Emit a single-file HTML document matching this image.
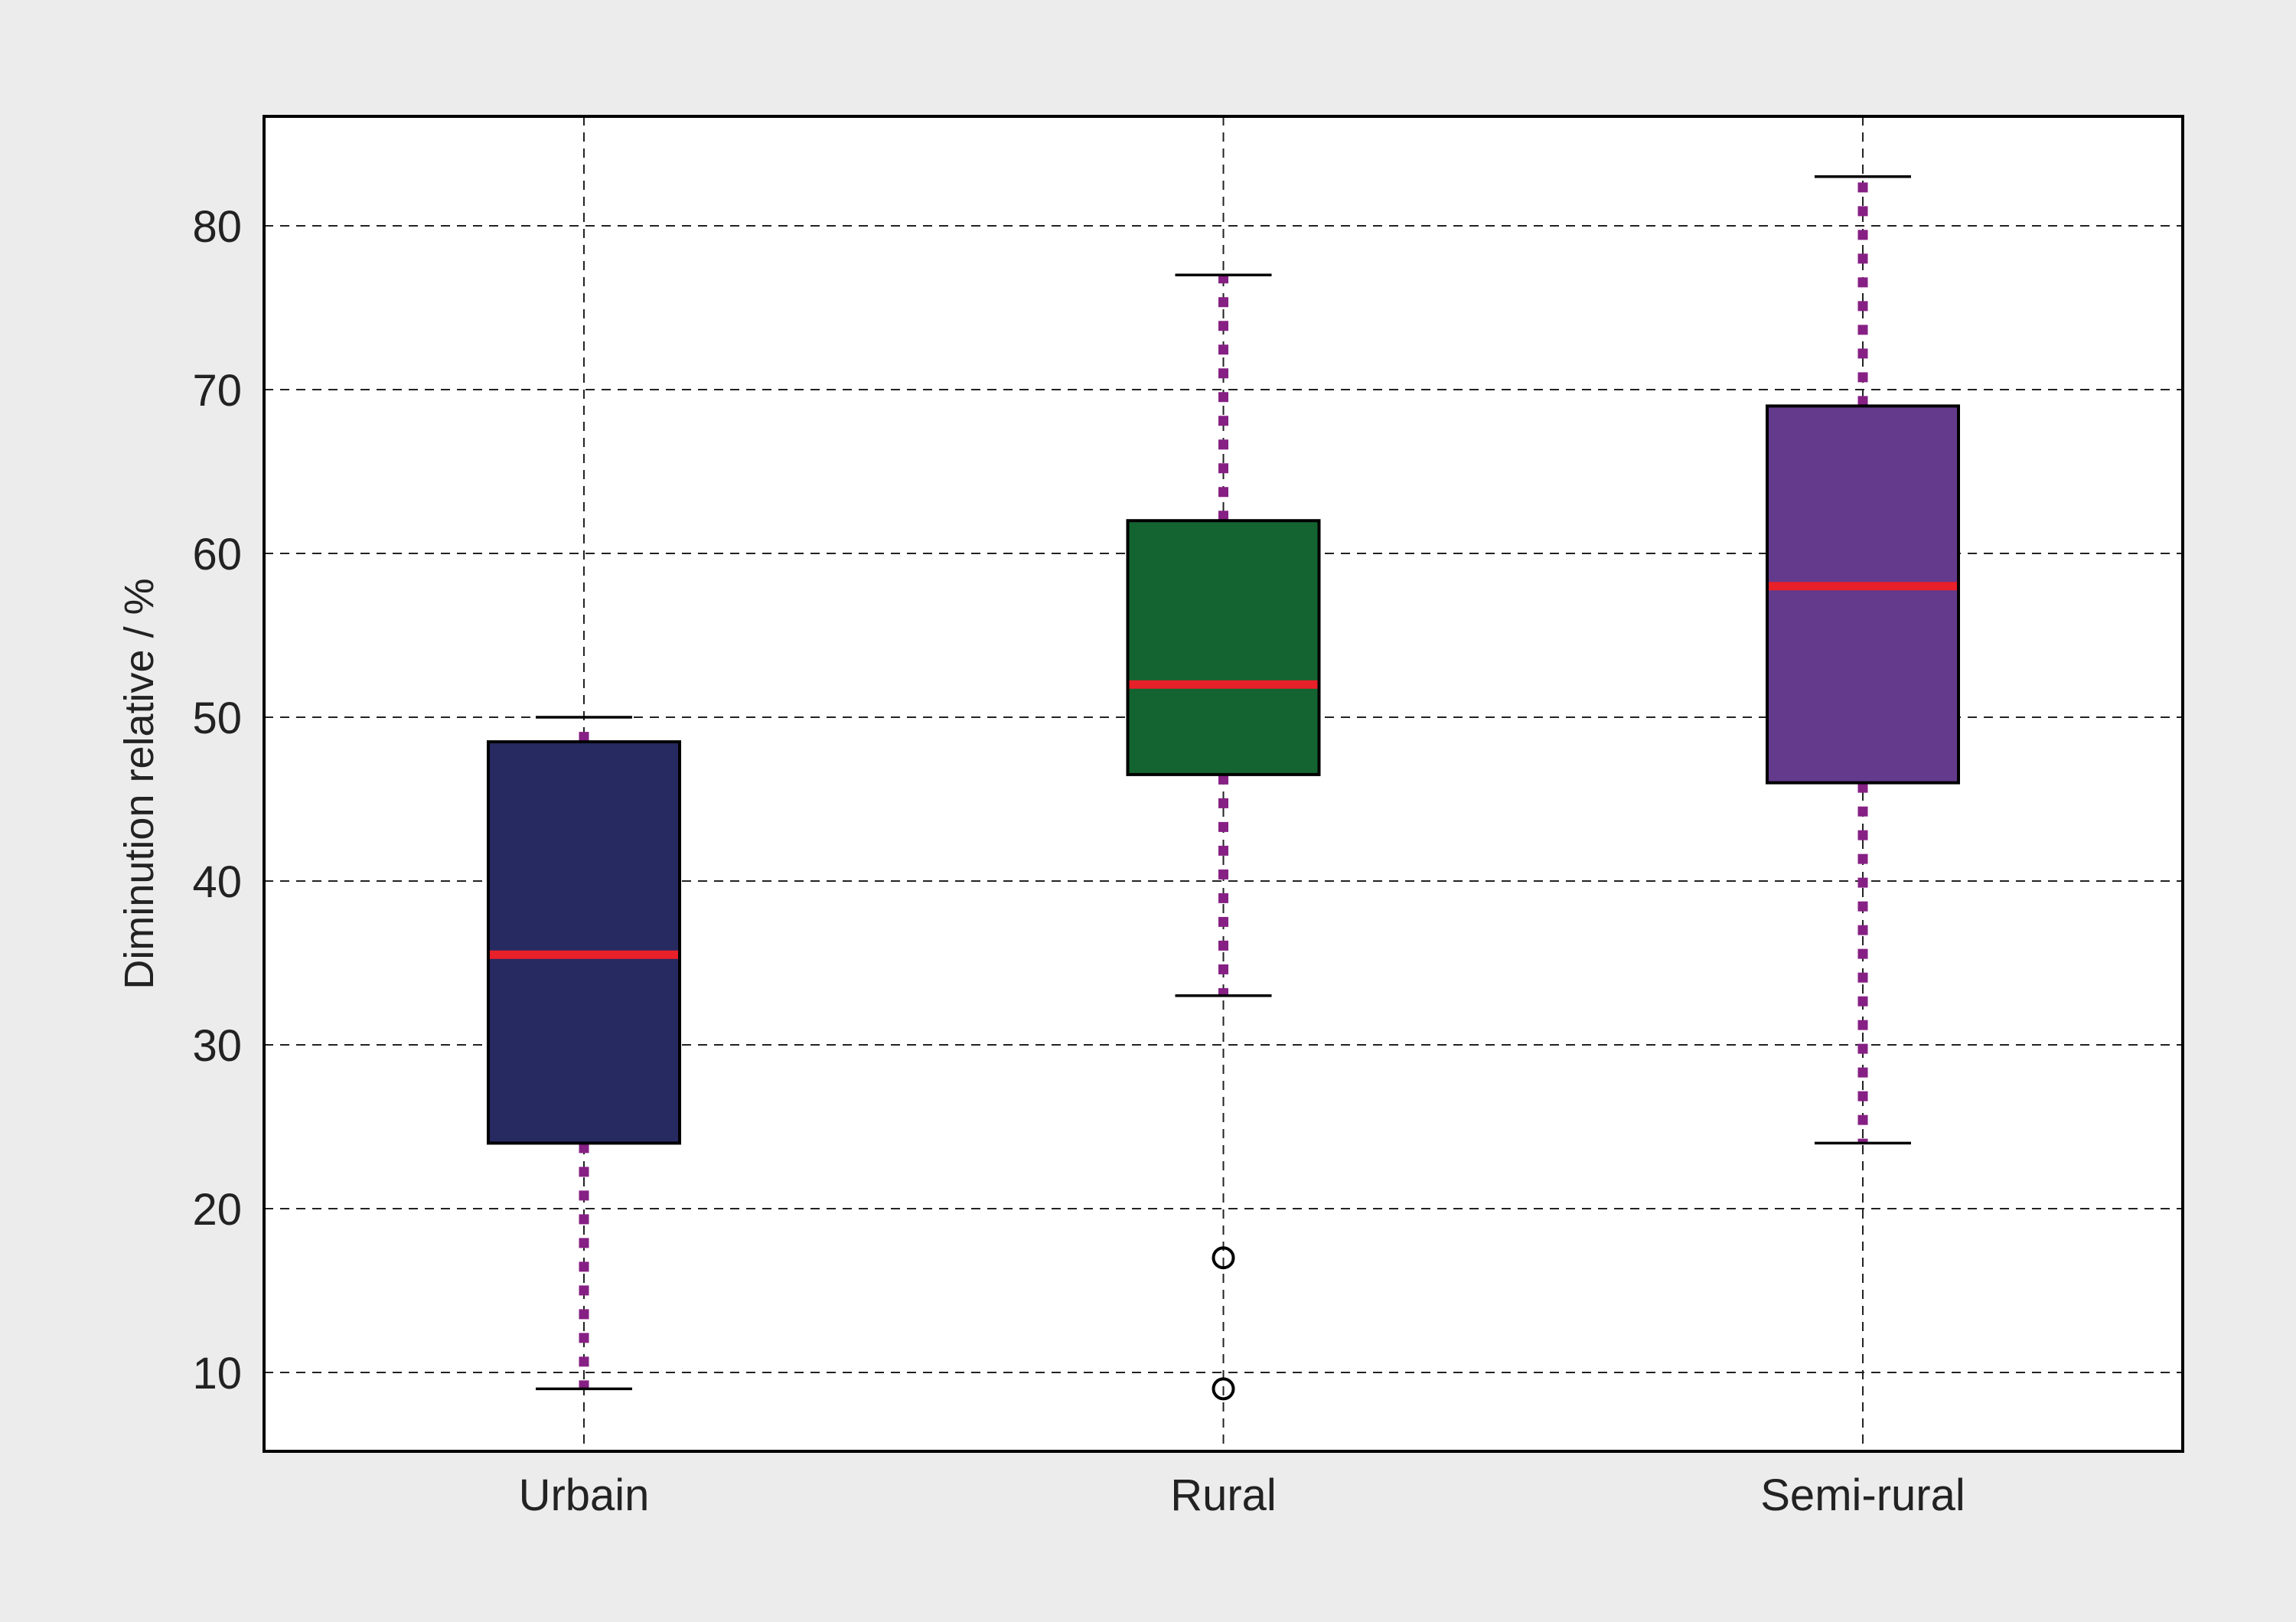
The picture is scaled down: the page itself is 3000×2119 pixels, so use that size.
<!DOCTYPE html>
<html><head><meta charset="utf-8"><style>
html,body{margin:0;padding:0;background:#ececec;}
svg{display:block;font-family:"Liberation Sans Narrow","Liberation Sans",sans-serif;}
</style></head><body>
<svg id="chart" width="3000" height="2119" viewBox="0 0 3000 2119">
<rect x="0" y="0" width="3000" height="2119" fill="#ececec"/>
<rect x="345" y="152" width="2507" height="1744" fill="#ffffff"/>
<g id="grid"></g>
<g id="boxes"></g>
<rect x="345" y="152" width="2507" height="1744" fill="none" stroke="#000" stroke-width="4"/>
<g id="labels"></g>
<text x="0" y="0" transform="translate(200,1024) rotate(-90)" text-anchor="middle" font-size="54" fill="#222">Diminution relative / %</text>
</svg>
<script>
const categories = ["Urbain", "Rural", "Semi-rural"];
const whiskerLow = [9, 33, 24];
const q1 = [24, 46.5, 46];
const medians = [35.5, 52, 58];
const q3 = [48.5, 62, 69];
const whiskerHigh = [50, 77, 83];
const outliersRural = [17, 9];
const outlierGroups = [[], outliersRural, []];
const yTicks = [10, 20, 30, 40, 50, 60, 70, 80];
const colors = ["#272a60", "#136430", "#633a8c"];

const NS = "http://www.w3.org/2000/svg";
const plotL = 345, plotR = 2852, plotT = 152, plotB = 1896;
function yScale(v){ return 1793 - (v - 10) * 21.4; }
function xScale(i){ return 763 + i * 835.5; }
function mk(tag, attrs, parent){
  const e = document.createElementNS(NS, tag);
  for (const k in attrs) e.setAttribute(k, attrs[k]);
  parent.appendChild(e);
  return e;
}
const grid = document.getElementById("grid");
const boxes = document.getElementById("boxes");
const labels = document.getElementById("labels");

yTicks.forEach(t => {
  const y = yScale(t);
  const l = mk("line", {x1: plotL, x2: plotR, y1: y, y2: y, stroke: "#222", "stroke-width": 2, "stroke-dasharray": "12 9"}, grid);
  
  
  const tx = mk("text", {x: 316, y: y + 21, "text-anchor": "end", "font-size": 58, fill: "#222"}, labels);
  tx.textContent = t;
  
  
});

categories.forEach((c, i) => {
  const x = xScale(i);
  const vg = mk("line", {x1: x, x2: x, y1: plotT, y2: plotB, stroke: "#222", "stroke-width": 2, "stroke-dasharray": "12 9"}, grid);
  
  

  const g = mk("g", {}, boxes);
  
  
  const hw = 125, cw = 63;
  const w1 = mk("line", {x1: x, x2: x, y1: yScale(q1[i]), y2: yScale(whiskerLow[i]), stroke: "#862084", "stroke-width": 13, "stroke-dasharray": "13 18"}, g);
  
  
  const w2 = mk("line", {x1: x, x2: x, y1: yScale(q3[i]), y2: yScale(whiskerHigh[i]), stroke: "#862084", "stroke-width": 13, "stroke-dasharray": "13 18"}, g);
  
  
  const c1 = mk("line", {x1: x - cw, x2: x + cw, y1: yScale(whiskerLow[i]), y2: yScale(whiskerLow[i]), stroke: "#000", "stroke-width": 3.5}, g);
  
  
  const c2 = mk("line", {x1: x - cw, x2: x + cw, y1: yScale(whiskerHigh[i]), y2: yScale(whiskerHigh[i]), stroke: "#000", "stroke-width": 3.5}, g);
  
  
  const r = mk("rect", {x: x - hw, y: yScale(q3[i]), width: 2 * hw, height: yScale(q1[i]) - yScale(q3[i]), fill: colors[i], stroke: "#000", "stroke-width": 4}, g);
  
  
  const m = mk("line", {x1: x - hw + 2, x2: x + hw - 2, y1: yScale(medians[i]), y2: yScale(medians[i]), stroke: "#e8202a", "stroke-width": 11}, g);
  
  
  outlierGroups[i].forEach(v => {
    const o = mk("circle", {cx: x, cy: yScale(v), r: 13, fill: "none", stroke: "#000", "stroke-width": 4}, g);
    
    
  });
  const lt = mk("text", {x: x, y: 1973, "text-anchor": "middle", "font-size": 58, fill: "#222"}, labels);
  lt.textContent = c;
  
  
});
</script>
</body></html>
